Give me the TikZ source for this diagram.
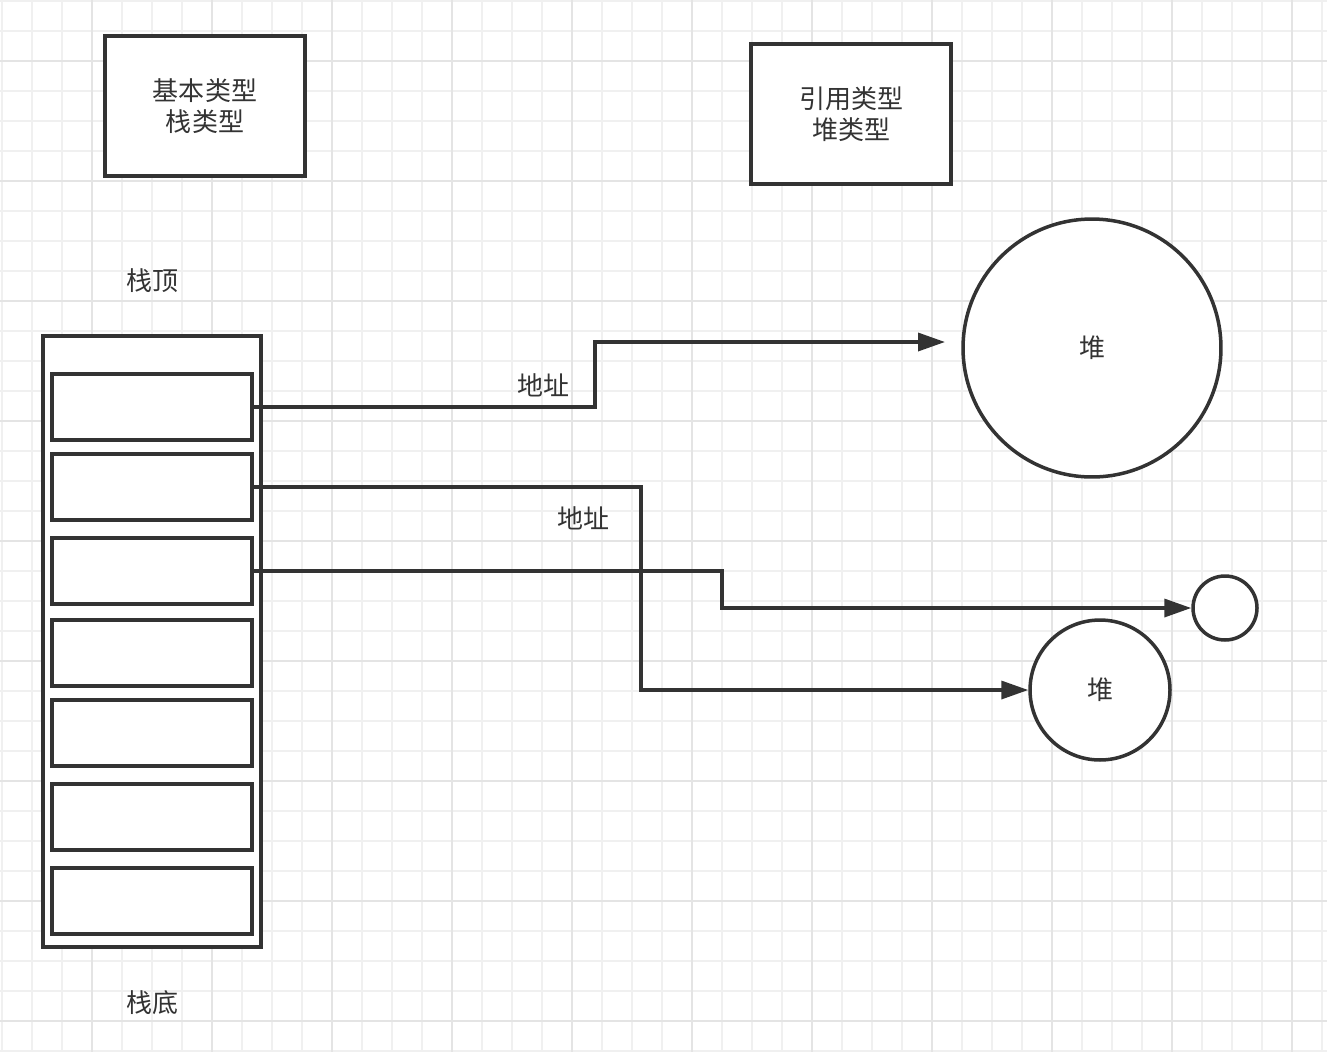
\documentclass[tikz,border=0pt]{standalone}
\usepackage{fontspec}
\setmainfont{Noto Sans CJK SC}
\usetikzlibrary{arrows.meta, positioning}
\definecolor{inkDark}{HTML}{333333}
\definecolor{gridMinor}{HTML}{F0F0F0}
\definecolor{gridMajor}{HTML}{E4E4E4}

\begin{document}
\begin{tikzpicture}[
  x=0.02cm, y=-0.02cm,
  font=\fontsize{14.8}{17.6}\selectfont,
  text=inkDark,
  typebox/.style={draw=inkDark, line width=0.07cm, fill=white, minimum width=4cm, minimum height=2.8cm, align=center},
  cell/.style={draw=inkDark, line width=0.07cm, fill=white, minimum width=4cm, minimum height=1.32cm},
  heap/.style={circle, draw=inkDark, line width=0.07cm, fill=white, inner sep=0pt},
  flow/.style={-{Triangle[length=0.54cm, width=0.36cm]}, draw=inkDark, line width=0.07cm}
]
  \useasboundingbox (0,0) rectangle (1327,1052);
  \fill[white] (0,0) rectangle (1327,1052);

  % grid
  \foreach \x in {2,32,...,1322} {
    \draw[gridMinor, line width=0.025cm] (\x,0) -- (\x,1052);
  }
  \foreach \y in {1,31,...,1051} {
    \draw[gridMinor, line width=0.025cm] (0,\y) -- (1327,\y);
  }
  \foreach \x in {92,212,...,1292} {
    \draw[gridMajor, line width=0.035cm] (\x,0) -- (\x,1052);
  }
  \foreach \y in {61,181,...,1021} {
    \draw[gridMajor, line width=0.035cm] (0,\y) -- (1327,\y);
  }

  \node[typebox] (basic) at (205,106) {基本类型\\栈类型};
  \node[typebox] (refer) at (851,114) {引用类型\\堆类型};

  % stack
  \node (stacktop) at (152,281) {栈顶};
  \node[draw=inkDark, line width=0.07cm, fill=white, minimum width=4.36cm, minimum height=12.22cm] (stack) at (152,641.5) {};
  \foreach \y/\n in {407/1,487/2,571/3,653/4,733/5,817/6,901/7} {
    \node[cell] (cell\n) at (152,\y) {};
  }
  \node (stackbottom) at (152,1003) {栈底};

  % heap
  \node[heap, minimum size=5.16cm] (heapBig) at (1092,348) {堆};
  \node[heap, minimum size=2.8cm] (heapMid) at (1100,690) {堆};
  \node[heap, minimum size=1.28cm] (heapDot) at (1225,608) {};

  \coordinate (turnA) at (595,342);
  \coordinate (tipA) at (945,342);
  \coordinate (turnB) at (641,690);
  \coordinate (turnC) at (722,608);

  \draw[flow] (cell1.east) -| (turnA) -- (tipA);
  \draw[flow] (cell2.east) -| (turnB) -- (heapMid.west);
  \draw[flow] (cell3.east) -| (turnC) -- (heapDot.west);

  \node (addrA) at (543,385) {地址};
  \node (addrB) at (583,518) {地址};
\end{tikzpicture}
\end{document}
